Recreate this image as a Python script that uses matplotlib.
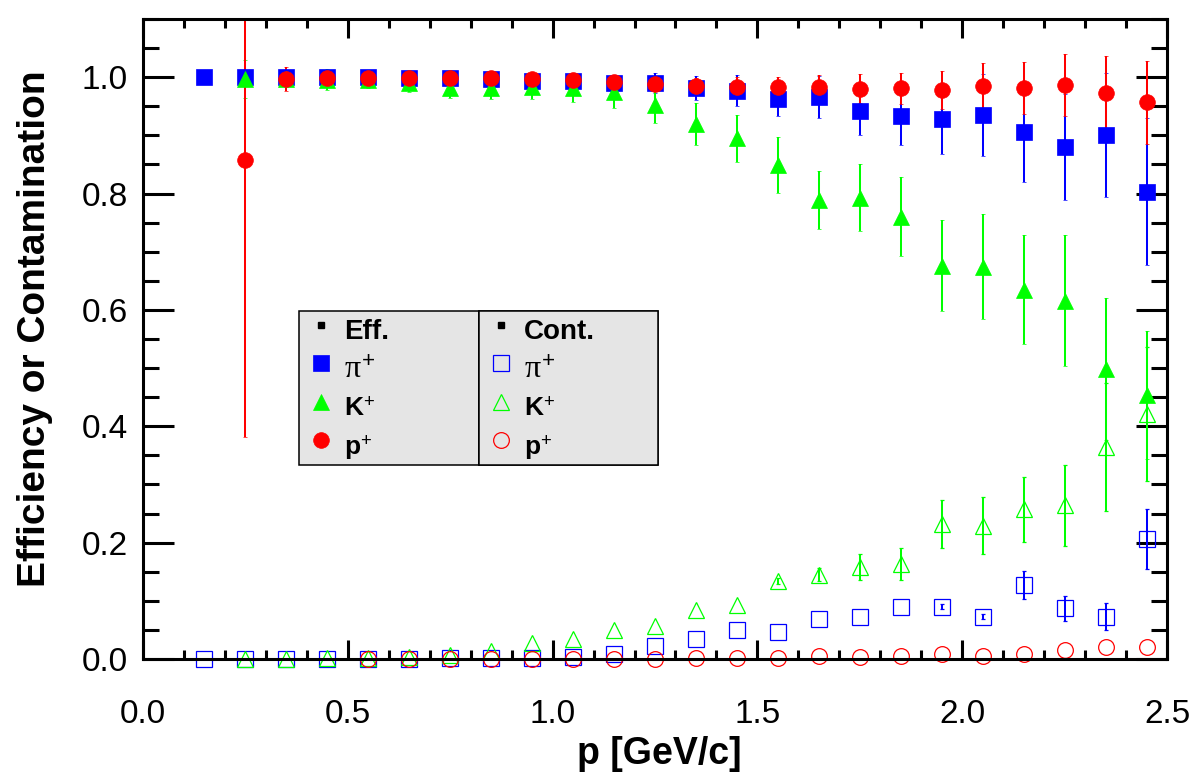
import numpy as np
import matplotlib
matplotlib.use("Agg")
import matplotlib.pyplot as plt
from matplotlib.lines import Line2D
from matplotlib.patches import Rectangle
from matplotlib.ticker import MultipleLocator

plt.rcParams['font.family'] = ['Liberation Sans', 'DejaVu Sans']
plt.rcParams['mathtext.fontset'] = 'custom'
plt.rcParams['mathtext.rm'] = 'Liberation Sans'
plt.rcParams['mathtext.it'] = 'Liberation Serif'
plt.rcParams['mathtext.bf'] = 'Liberation Sans:bold'

nan = np.nan

# momentum bin centres [GeV/c]
p = [0.15, 0.25, 0.35, 0.45, 0.55, 0.65, 0.75, 0.85, 0.95, 1.05, 1.15, 1.25,
     1.35, 1.45, 1.55, 1.65, 1.75, 1.85, 1.95, 2.05, 2.15, 2.25, 2.35, 2.45]

# efficiency
eff_pi = [1.000, 1.000, 1.000, 1.000, 1.000, 0.998, 0.998, 0.997, 0.994, 0.993, 0.990, 0.990,
          0.981, 0.977, 0.963, 0.966, 0.942, 0.933, 0.928, 0.935, 0.906, 0.880, 0.901, 0.803]
eff_pi_err = [nan, nan, nan, nan, nan, nan, nan, nan, nan, 0.004, 0.010, 0.017,
              0.021, 0.027, 0.030, 0.036, 0.042, 0.050, 0.060, 0.071, 0.086, 0.091, 0.107, 0.126]

eff_k = [nan, 0.997, 0.997, 0.996, 0.996, 0.990, 0.982, 0.982, 0.983, 0.982, 0.975, 0.952,
         0.920, 0.895, 0.849, 0.789, 0.793, 0.760, 0.676, 0.674, 0.635, 0.616, 0.499, 0.453]
eff_k_err = [nan, 0.032, 0.010, 0.018, 0.015, 0.015, 0.017, 0.020, 0.020, 0.025, 0.028, 0.030,
             0.036, 0.040, 0.048, 0.050, 0.058, 0.068, 0.078, 0.090, 0.094, 0.112, 0.122, 0.110]

eff_p = [nan, 0.857, 0.997, 0.999, 0.999, 0.999, 0.999, 0.999, 0.997, 0.996, 0.991, 0.988,
         0.984, 0.983, 0.983, 0.983, 0.980, 0.981, 0.978, 0.984, 0.981, 0.987, 0.972, 0.957]
eff_p_err = [nan, 0.476, 0.021, 0.006, 0.005, nan, nan, nan, nan, nan, 0.006, 0.012,
             0.015, 0.018, 0.018, 0.021, 0.025, 0.027, 0.033, 0.040, 0.045, 0.053, 0.064, 0.071]

# contamination
cont_pi = [0.000, 0.000, 0.000, 0.000, 0.000, 0.000, 0.002, 0.002, 0.001, 0.004, 0.009, 0.022,
           0.034, 0.049, 0.046, 0.068, 0.072, 0.089, 0.090, 0.073, 0.127, 0.087, 0.073, 0.206]
cont_pi_err = [nan, nan, nan, nan, nan, nan, nan, nan, nan, nan, nan, nan,
               nan, nan, nan, nan, nan, nan, 0.004, 0.004, 0.024, 0.022, 0.023, 0.052]

cont_k = [nan, 0.000, 0.000, 0.001, 0.001, 0.004, 0.007, 0.013, 0.028, 0.034, 0.050, 0.057,
          0.085, 0.092, 0.134, 0.145, 0.158, 0.163, 0.232, 0.229, 0.257, 0.264, 0.365, 0.421]
cont_k_err = [nan, nan, nan, nan, nan, nan, nan, nan, nan, nan, nan, nan,
              nan, nan, 0.005, 0.011, 0.022, 0.027, 0.042, 0.049, 0.056, 0.070, 0.110, 0.115]

cont_p = [nan, nan, nan, nan, 0.000, 0.000, 0.000, 0.000, 0.000, 0.000, 0.000, 0.000,
          0.002, 0.002, 0.001, 0.005, 0.003, 0.005, 0.008, 0.005, 0.008, 0.016, 0.020, 0.020]
cont_p_err = [nan] * 24

BLUE, GREEN, RED = '#0000ff', '#00ff00', '#ff0000'

fig = plt.figure(figsize=(11.98, 7.76), dpi=100)
ax = fig.add_axes([143 / 1198, 117 / 776, 1024 / 1198, 640 / 776])

# markers at 0 hang below the frame, but the big error bar is cut at the top
clip = Rectangle((-0.02, -0.1), 1.04, 1.1, transform=ax.transAxes)


def draw(y, err, color, marker, filled):
    c = ax.errorbar(p, y, yerr=err, fmt=marker, color=color, ms=11.3,
                    mfc=color if filled else 'none', mec=color,
                    mew=0.9 if not filled else 0.5,
                    elinewidth=1.45, capsize=1.1, capthick=1.45)
    for art in [c[0], *c[1], *c[2]]:
        art.set_clip_path(clip)


draw(eff_pi, eff_pi_err, BLUE, 's', True)
draw(eff_k, eff_k_err, GREEN, '^', True)
draw(eff_p, eff_p_err, RED, 'o', True)
draw(cont_pi, cont_pi_err, BLUE, 's', False)
draw(cont_k, cont_k_err, GREEN, '^', False)
draw(cont_p, cont_p_err, RED, 'o', False)

ax.set_xlim(0, 2.5)
ax.set_ylim(0, 1.1)
ax.xaxis.set_major_locator(MultipleLocator(0.5))
ax.xaxis.set_minor_locator(MultipleLocator(0.1))
ax.yaxis.set_major_locator(MultipleLocator(0.2))
ax.yaxis.set_minor_locator(MultipleLocator(0.05))

for s in ax.spines.values():
    s.set_linewidth(2.2)
ax.tick_params(axis='both', which='both', direction='in', top=True, right=True,
               width=2.2, labelsize=24)
ax.tick_params(axis='x', which='major', length=13.7, pad=29)
ax.tick_params(axis='x', which='minor', length=6.5)
ax.tick_params(axis='y', which='major', length=22.3, pad=11)
ax.tick_params(axis='y', which='minor', length=11.5)

ax.set_xlabel('p [GeV/c]', fontsize=27, fontweight='bold')
ax.xaxis.set_label_coords(0.504, -0.12)
ax.set_ylabel('Efficiency or Contamination', fontsize=28, fontweight='bold')
ax.yaxis.set_label_coords(-0.088, 0.516)

# two-column legend: Eff. (filled) | Cont. (open)
head = Line2D([], [], ls='none', marker='s', color='k', ms=4.8)


def key(color, marker, filled):
    return Line2D([], [], ls='none', marker=marker, ms=11.3, mec=color,
                  mfc=color if filled else 'none', mew=0.9 if not filled else 0.5)


names = [r'$\pi^{+}$', r'K$^{+}$', r'p$^{+}$']
cols = [(0.1523, 0.1758, 'Eff.', True), (0.3281, 0.1748, 'Cont.', False)]
for x0, w, title, filled in cols:
    handles = [head, key(BLUE, 's', filled), key(GREEN, '^', filled), key(RED, 'o', filled)]
    leg = ax.legend(handles, [title] + names, loc='upper left', mode='expand',
                    bbox_to_anchor=(x0, 0.5438 - 0.3, w, 0.3), borderaxespad=0,
                    borderpad=0, labelspacing=0, handleheight=1.866, handlelength=1.667,
                    handletextpad=0.04, numpoints=1, fancybox=False, framealpha=1,
                    facecolor='#e5e5e5', edgecolor='k',
                    prop={'size': 19, 'weight': 'bold'})
    leg.get_frame().set_linewidth(1.1)
    leg.get_texts()[0].set_fontsize(20)
    leg.get_texts()[1].set_fontsize(23)
    ax.add_artist(leg)

fig.savefig('out.png', dpi=100)
